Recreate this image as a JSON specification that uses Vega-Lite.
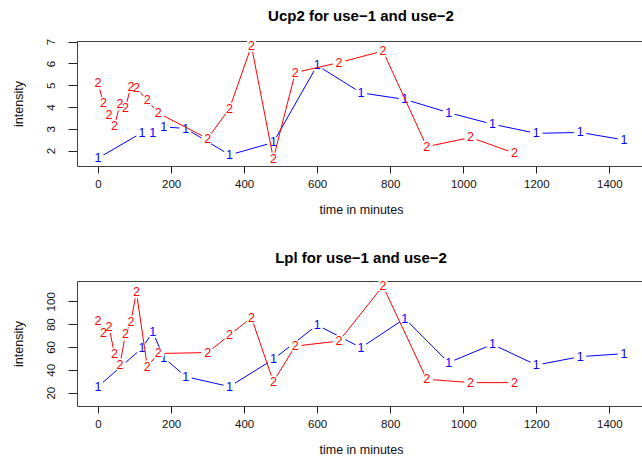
{
  "$schema": "https://vega.github.io/schema/vega-lite/v6.json",
  "padding": {"left": 11, "top": 8, "right": 0, "bottom": 0},
  "background": "white",
  "config": {
    "font": "Liberation Sans",
    "view": {"stroke": "#404040", "strokeWidth": 1},
    "axis": {"grid": false, "domain": false, "tickColor": "#222222", "labelColor": "#111111", "titleColor": "#111111", "labelFontSize": 11.5, "titleFontSize": 12.5, "titleFontWeight": "normal", "labelFont": "Liberation Sans", "titleFont": "Liberation Sans", "labelFlush": false, "labelOverlap": false, "format": "d"},
    "title": {"fontSize": 15, "fontWeight": "bold", "font": "Liberation Sans", "color": "#000000"}
  },
  "datasets": {
    "d": [
      {"panel": "Ucp2", "s": "1", "t": 0, "v": 1.65},
      {"panel": "Ucp2", "s": "1", "t": 120, "v": 2.82},
      {"panel": "Ucp2", "s": "1", "t": 150, "v": 2.82},
      {"panel": "Ucp2", "s": "1", "t": 180, "v": 3.09},
      {"panel": "Ucp2", "s": "1", "t": 240, "v": 3.01},
      {"panel": "Ucp2", "s": "1", "t": 360, "v": 1.8},
      {"panel": "Ucp2", "s": "1", "t": 480, "v": 2.37},
      {"panel": "Ucp2", "s": "1", "t": 600, "v": 5.91},
      {"panel": "Ucp2", "s": "1", "t": 720, "v": 4.65},
      {"panel": "Ucp2", "s": "1", "t": 840, "v": 4.35},
      {"panel": "Ucp2", "s": "1", "t": 960, "v": 3.74},
      {"panel": "Ucp2", "s": "1", "t": 1080, "v": 3.21},
      {"panel": "Ucp2", "s": "1", "t": 1200, "v": 2.79},
      {"panel": "Ucp2", "s": "1", "t": 1320, "v": 2.83},
      {"panel": "Ucp2", "s": "1", "t": 1440, "v": 2.49},
      {"panel": "Ucp2", "s": "2", "t": 0, "v": 5.08},
      {"panel": "Ucp2", "s": "2", "t": 15, "v": 4.19},
      {"panel": "Ucp2", "s": "2", "t": 30, "v": 3.65},
      {"panel": "Ucp2", "s": "2", "t": 45, "v": 3.13},
      {"panel": "Ucp2", "s": "2", "t": 60, "v": 4.12},
      {"panel": "Ucp2", "s": "2", "t": 75, "v": 3.96},
      {"panel": "Ucp2", "s": "2", "t": 90, "v": 4.94},
      {"panel": "Ucp2", "s": "2", "t": 105, "v": 4.88},
      {"panel": "Ucp2", "s": "2", "t": 135, "v": 4.3},
      {"panel": "Ucp2", "s": "2", "t": 165, "v": 3.72},
      {"panel": "Ucp2", "s": "2", "t": 300, "v": 2.55},
      {"panel": "Ucp2", "s": "2", "t": 360, "v": 3.93},
      {"panel": "Ucp2", "s": "2", "t": 420, "v": 6.8},
      {"panel": "Ucp2", "s": "2", "t": 480, "v": 1.63},
      {"panel": "Ucp2", "s": "2", "t": 540, "v": 5.58},
      {"panel": "Ucp2", "s": "2", "t": 660, "v": 6.04},
      {"panel": "Ucp2", "s": "2", "t": 780, "v": 6.57},
      {"panel": "Ucp2", "s": "2", "t": 900, "v": 2.18},
      {"panel": "Ucp2", "s": "2", "t": 1020, "v": 2.6},
      {"panel": "Ucp2", "s": "2", "t": 1140, "v": 1.88},
      {"panel": "Lpl", "s": "1", "t": 0, "v": 25.3},
      {"panel": "Lpl", "s": "1", "t": 120, "v": 58.8},
      {"panel": "Lpl", "s": "1", "t": 150, "v": 73.1},
      {"panel": "Lpl", "s": "1", "t": 180, "v": 50.7},
      {"panel": "Lpl", "s": "1", "t": 240, "v": 34},
      {"panel": "Lpl", "s": "1", "t": 360, "v": 25.3},
      {"panel": "Lpl", "s": "1", "t": 480, "v": 49.2},
      {"panel": "Lpl", "s": "1", "t": 600, "v": 79.2},
      {"panel": "Lpl", "s": "1", "t": 720, "v": 59.4},
      {"panel": "Lpl", "s": "1", "t": 840, "v": 84.9},
      {"panel": "Lpl", "s": "1", "t": 960, "v": 46.3},
      {"panel": "Lpl", "s": "1", "t": 1080, "v": 62.3},
      {"panel": "Lpl", "s": "1", "t": 1200, "v": 44.2},
      {"panel": "Lpl", "s": "1", "t": 1320, "v": 51.5},
      {"panel": "Lpl", "s": "1", "t": 1440, "v": 54.2},
      {"panel": "Lpl", "s": "2", "t": 0, "v": 82.8},
      {"panel": "Lpl", "s": "2", "t": 15, "v": 72.5},
      {"panel": "Lpl", "s": "2", "t": 30, "v": 77.5},
      {"panel": "Lpl", "s": "2", "t": 45, "v": 54},
      {"panel": "Lpl", "s": "2", "t": 60, "v": 44.5},
      {"panel": "Lpl", "s": "2", "t": 75, "v": 71},
      {"panel": "Lpl", "s": "2", "t": 90, "v": 82.3},
      {"panel": "Lpl", "s": "2", "t": 105, "v": 108},
      {"panel": "Lpl", "s": "2", "t": 135, "v": 42.8},
      {"panel": "Lpl", "s": "2", "t": 165, "v": 54.3},
      {"panel": "Lpl", "s": "2", "t": 300, "v": 55.1},
      {"panel": "Lpl", "s": "2", "t": 360, "v": 70.5},
      {"panel": "Lpl", "s": "2", "t": 420, "v": 85.7},
      {"panel": "Lpl", "s": "2", "t": 480, "v": 29.6},
      {"panel": "Lpl", "s": "2", "t": 540, "v": 60.8},
      {"panel": "Lpl", "s": "2", "t": 660, "v": 65.2},
      {"panel": "Lpl", "s": "2", "t": 780, "v": 113.4},
      {"panel": "Lpl", "s": "2", "t": 900, "v": 31.7},
      {"panel": "Lpl", "s": "2", "t": 1020, "v": 28.8},
      {"panel": "Lpl", "s": "2", "t": 1140, "v": 28.8}
    ]
  },
  "bounds": "flush",
  "spacing": 115,
  "vconcat": [
    {
      "title": {"text": "Ucp2 for use−1 and use−2", "offset": 14},
      "width": 568,
      "height": 125,
      "data": {"name": "d"},
      "transform": [{"filter": "datum.panel == 'Ucp2'"}],
      "encoding": {
        "x": {"field": "t", "type": "quantitative", "scale": {"domain": [-57.6, 1497.6], "nice": false, "zero": false}, "axis": {"values": [0, 200, 400, 600, 800, 1000, 1200, 1400], "format": "d", "title": "time in minutes", "tickSize": 7, "labelPadding": 5, "titlePadding": 14}},
        "y": {"field": "v", "type": "quantitative", "scale": {"domain": [1.29, 7.03], "nice": false, "zero": false}, "axis": {"values": [2, 3, 4, 5, 6, 7], "format": "d", "title": "intensity", "tickSize": 9, "labelAngle": -90, "labelAlign": "center", "labelBaseline": "bottom", "labelPadding": 12, "titlePadding": 20}}
      },
      "layer": [
        {"transform": [{"filter": "datum.s == '1'"}], "mark": {"type": "line", "color": "blue", "strokeWidth": 1}},
        {"transform": [{"filter": "datum.s == '1'"}], "mark": {"type": "point", "shape": "circle", "filled": true, "color": "white", "opacity": 1, "size": 160}},
        {"transform": [{"filter": "datum.s == '1'"}], "mark": {"type": "text", "color": "blue", "fontSize": 12.5}, "encoding": {"text": {"field": "s"}}},
        {"transform": [{"filter": "datum.s == '2'"}], "mark": {"type": "line", "color": "red", "strokeWidth": 1}},
        {"transform": [{"filter": "datum.s == '2'"}], "mark": {"type": "point", "shape": "circle", "filled": true, "color": "white", "opacity": 1, "size": 160}},
        {"transform": [{"filter": "datum.s == '2'"}], "mark": {"type": "text", "color": "red", "fontSize": 12.5}, "encoding": {"text": {"field": "s"}}}
      ]
    },
    {
      "title": {"text": "Lpl for use−1 and use−2", "offset": 14},
      "width": 568,
      "height": 125,
      "data": {"name": "d"},
      "transform": [{"filter": "datum.panel == 'Lpl'"}],
      "encoding": {
        "x": {"field": "t", "type": "quantitative", "scale": {"domain": [-57.6, 1497.6], "nice": false, "zero": false}, "axis": {"values": [0, 200, 400, 600, 800, 1000, 1200, 1400], "format": "d", "title": "time in minutes", "tickSize": 7, "labelPadding": 5, "titlePadding": 14}},
        "y": {"field": "v", "type": "quantitative", "scale": {"domain": [8.3, 117.8], "nice": false, "zero": false}, "axis": {"values": [20, 40, 60, 80, 100], "format": "d", "title": "intensity", "tickSize": 9, "labelAngle": -90, "labelAlign": "center", "labelBaseline": "bottom", "labelPadding": 12, "titlePadding": 20}}
      },
      "layer": [
        {"transform": [{"filter": "datum.s == '1'"}], "mark": {"type": "line", "color": "blue", "strokeWidth": 1}},
        {"transform": [{"filter": "datum.s == '1'"}], "mark": {"type": "point", "shape": "circle", "filled": true, "color": "white", "opacity": 1, "size": 160}},
        {"transform": [{"filter": "datum.s == '1'"}], "mark": {"type": "text", "color": "blue", "fontSize": 12.5}, "encoding": {"text": {"field": "s"}}},
        {"transform": [{"filter": "datum.s == '2'"}], "mark": {"type": "line", "color": "red", "strokeWidth": 1}},
        {"transform": [{"filter": "datum.s == '2'"}], "mark": {"type": "point", "shape": "circle", "filled": true, "color": "white", "opacity": 1, "size": 160}},
        {"transform": [{"filter": "datum.s == '2'"}], "mark": {"type": "text", "color": "red", "fontSize": 12.5}, "encoding": {"text": {"field": "s"}}}
      ]
    }
  ]
}
